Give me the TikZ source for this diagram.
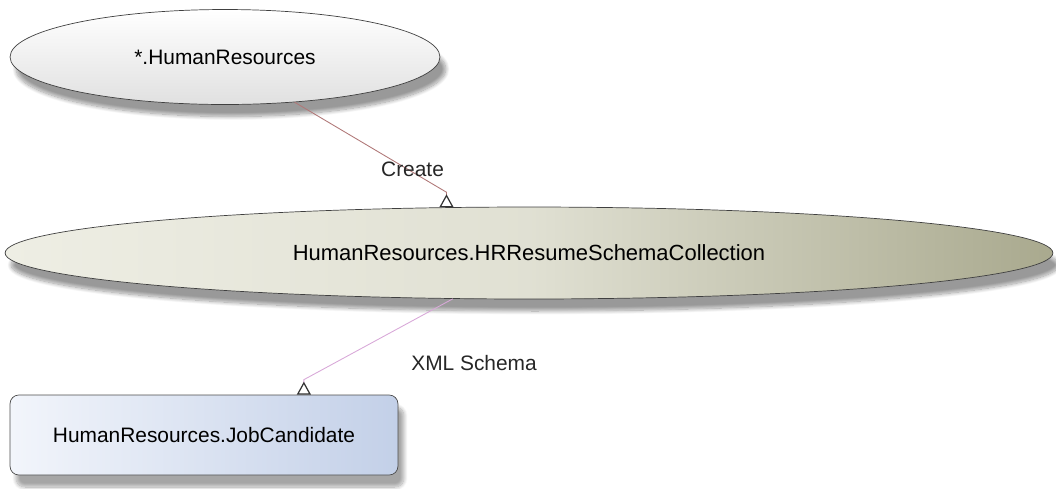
\documentclass[tikz,border=0pt]{standalone}
\usepackage{fontspec}
\setmainfont{Liberation Sans}
\usetikzlibrary{arrows.meta,shapes.geometric,shadows.blur,calc}

\definecolor{edgeCreate}{HTML}{B07878}
\definecolor{edgeXml}{HTML}{D8A8D8}
\definecolor{oliveLight}{HTML}{EEEEE4}
\definecolor{oliveDark}{HTML}{A9A98E}
\definecolor{blueLight}{HTML}{F2F5FB}
\definecolor{blueDark}{HTML}{C3D0E8}

\begin{document}
\begin{tikzpicture}[
  x=0.02cm, y=-0.02cm,
  % Node Styles
  scopeell/.style={ellipse, draw=black!75, inner sep=0pt, minimum width=8.6cm, minimum height=1.9cm, top color=white, bottom color=black!12, blur shadow={shadow xshift=0.12cm, shadow yshift=-0.24cm, shadow opacity=40, shadow blur steps=12}},
  collell/.style={ellipse, draw=black!75, inner sep=0pt, minimum width=20.96cm, minimum height=1.84cm, left color=oliveLight, right color=oliveDark, middle color=oliveLight!80!oliveDark, font=\fontsize{12.5}{15}\selectfont, blur shadow={shadow xshift=0.12cm, shadow yshift=-0.24cm, shadow opacity=40, shadow blur steps=12}},
  tablebox/.style={rectangle, rounded corners=5pt, draw=black!70, inner sep=0pt, minimum width=7.76cm, minimum height=1.6cm, left color=blueLight, right color=blueDark, blur shadow={shadow xshift=0.12cm, shadow yshift=-0.24cm, shadow opacity=35, shadow blur steps=12}},
  edgelabel/.style={inner sep=1pt, text=black!85},
  % Arrow Styles
  deparrow/.style={-{Triangle[open, reversed, length=0.26cm, width=0.28cm, color=black!80, line width=0.7pt]}, line width=0.5pt},
]
\tikzset{font=\fontsize{11.9}{14}\selectfont}
\useasboundingbox (0,0) rectangle (1056,488);

% Dependency diagram for: HumanResources

\node[scopeell] (HR_Any) at (225,57) {*.HumanResources};
\node[collell] (HR_Schema) at (529,253) {HumanResources.HRResumeSchemaCollection};
\node[tablebox] (HR_JobCand) at (204,435) {HumanResources.JobCandidate};

\draw[deparrow, draw=edgeCreate] (HR_Any.-33) -- node[edgelabel, pos=0.75, xshift=0.08cm] {Create} ($(HR_Schema.151)+(0,-15)$) -- (HR_Schema.151);
\draw[deparrow, draw=edgeXml] (HR_Schema.211) -- node[edgelabel, pos=0.79, anchor=west, xshift=1.48cm] {XML Schema} ($(HR_JobCand.22.6)+(0,-15)$) -- (HR_JobCand.22.6);

\end{tikzpicture}
\end{document}
